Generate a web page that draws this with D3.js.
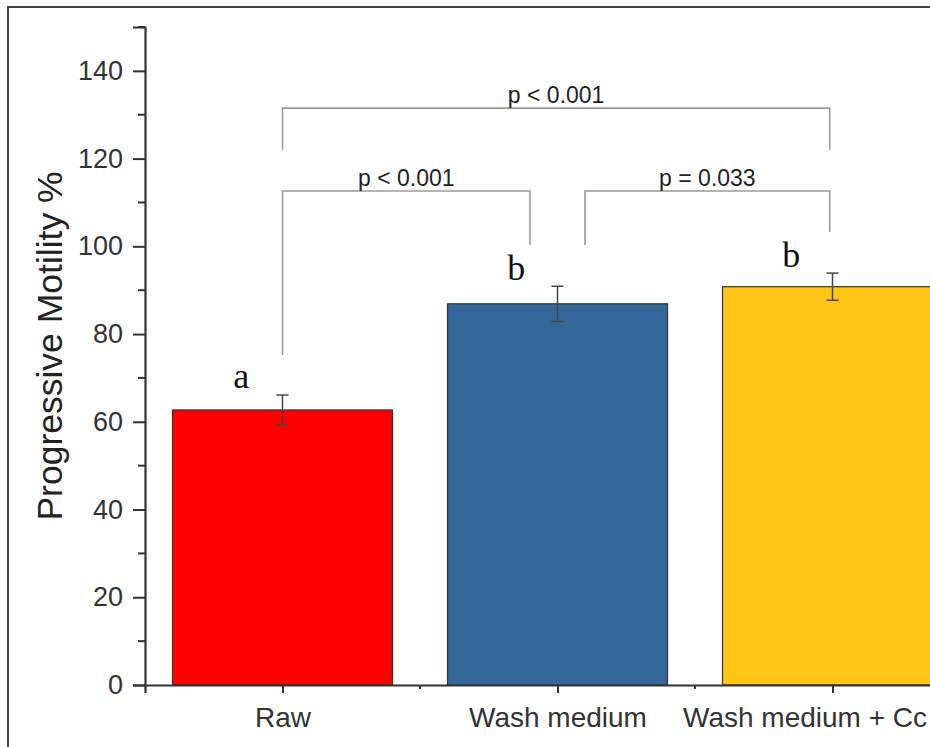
<!DOCTYPE html>
<html>
<head>
<meta charset="utf-8">
<script src="https://cdn.jsdelivr.net/npm/d3@7"></script>
<style>
  body { margin: 0; background: #fff; }
  svg { display: block; font-family: Arial, "Liberation Sans", sans-serif; }
</style>
</head>
<body>
<div id="chart"></div>
<script>
"use strict";

// Progressive motility by treatment (mean ± error)
const categories = ["Raw", "Wash medium", "Wash medium + Cc"];
const means = [62.7, 86.9, 90.8];
const errors = [3.4, 4.0, 3.1];
const letters = ["a", "b", "b"];
const barColors = ["#fe0000", "#336699", "#ffc416"];
const yTicks = [0, 20, 40, 60, 80, 100, 120, 140];

// pairwise comparisons: [left group, right group, label]
const comparisons = [
  [0, 2, "p < 0.001"],
  [0, 1, "p < 0.001"],
  [1, 2, "p = 0.033"]
];

const width = 930, height = 747;

const svg = d3.select("#chart")
  .append("svg")
  .attr("width", width)
  .attr("height", height);

// outer frame (top and left edges visible in the crop)
svg.append("path")
  .attr("d", `M8,${height} V7 H${width}`)
  .attr("fill", "none")
  .attr("stroke", "#444")
  .attr("stroke-width", 2);

const x = d3.scaleLinear().domain([-0.5, 2.5]).range([145, 970]);
const y = d3.scaleLinear().domain([0, 150]).range([685, 27]);
const barW = 0.8 * (x(1) - x(0));

const axisColor = "#333";

// bars
svg.selectAll("rect.bar")
  .data(means)
  .enter()
  .append("rect")
  .attr("class", "bar")
  .attr("x", (d, i) => x(i) - barW / 2)
  .attr("y", d => y(d))
  .attr("width", barW)
  .attr("height", d => y(0) - y(d))
  .attr("fill", (d, i) => barColors[i])
  .attr("stroke", "#333")
  .attr("stroke-width", 1.2);

// error bars
const err = svg.append("g")
  .attr("stroke", "#444")
  .attr("stroke-width", 1.5);
means.forEach((m, i) => {
  const cx = x(i);
  err.append("line").attr("x1", cx).attr("x2", cx).attr("y1", y(m + errors[i])).attr("y2", y(m - errors[i]));
  err.append("line").attr("x1", cx - 6).attr("x2", cx + 6).attr("y1", y(m + errors[i])).attr("y2", y(m + errors[i]));
  err.append("line").attr("x1", cx - 6).attr("x2", cx + 6).attr("y1", y(m - errors[i])).attr("y2", y(m - errors[i]));
});

// group letters
svg.selectAll("text.letter")
  .data(letters)
  .enter()
  .append("text")
  .attr("class", "letter")
  .attr("x", (d, i) => x(i - 0.15))
  .attr("y", (d, i) => y(means[i] + errors[i] + 1.5))
  .attr("text-anchor", "middle")
  .attr("font-family", "'Times New Roman', 'Liberation Serif', serif")
  .attr("font-size", "36px")
  .attr("fill", "#111")
  .text(d => d);

// significance brackets (bar y, left leg end, right leg end, x offsets)
const bracketGeom = [
  { level: 131.5, legL: 122, legR: 122, dl: 0, dr: -0.01 },
  { level: 112.6, legL: 75.2, legR: 100.3, dl: 0, dr: -0.1 },
  { level: 112.6, legL: 100.3, legR: 103.3, dl: 0.1, dr: -0.01 }
];
const br = svg.append("g");
comparisons.forEach((c, k) => {
  const g = bracketGeom[k];
  const x1 = x(c[0] + g.dl), x2 = x(c[1] + g.dr);
  br.append("path")
    .attr("d", `M${x1},${y(g.legL)} V${y(g.level)} H${x2} V${y(g.legR)}`)
    .attr("fill", "none")
    .attr("stroke", "#9a9a9a")
    .attr("stroke-width", 1.6);
  br.append("text")
    .attr("x", (x1 + x2) / 2)
    .attr("y", y(g.level) - 5)
    .attr("text-anchor", "middle")
    .attr("font-size", "23px")
    .attr("fill", "#222")
    .text(c[2]);
});

// y axis
const yAxis = d3.axisLeft(y).tickValues(yTicks).tickSize(12).tickPadding(10);
const gy = svg.append("g")
  .attr("transform", `translate(${x(-0.5)},0)`)
  .call(yAxis);
svg.append("g")
  .attr("transform", `translate(${x(-0.5)},0)`)
  .selectAll("line")
  .data(d3.range(10, 151, 20))
  .enter()
  .append("line")
  .attr("x1", -7).attr("x2", 0)
  .attr("y1", d => y(d)).attr("y2", d => y(d))
  .attr("stroke", axisColor)
  .attr("stroke-width", 2);
gy.select(".domain").attr("stroke", axisColor).attr("stroke-width", 2.2);
gy.selectAll(".tick line").attr("stroke", axisColor).attr("stroke-width", 2);
gy.selectAll(".tick text")
  .attr("font-size", "27px")
  .attr("fill", "#333");

// x axis
const xAxis = d3.axisBottom(x).tickValues([0, 1, 2]).tickSize(8).tickPadding(14)
  .tickFormat(i => categories[i]);
const gx = svg.append("g")
  .attr("transform", `translate(0,${y(0)})`)
  .call(xAxis);
gx.select(".domain").attr("stroke", axisColor).attr("stroke-width", 2.2);
gx.selectAll(".tick line").attr("stroke", axisColor).attr("stroke-width", 2);
gx.selectAll(".tick text")
  .attr("font-size", "28px")
  .attr("fill", "#333");
// last label is left-aligned where the crop cuts it
gx.selectAll(".tick text").filter(d => d === 2)
  .attr("text-anchor", "start")
  .attr("x", -150);
svg.append("g")
  .attr("transform", `translate(0,${y(0)})`)
  .selectAll("line")
  .data([0.5, 1.5])
  .enter()
  .append("line")
  .attr("x1", d => x(d)).attr("x2", d => x(d))
  .attr("y1", 0).attr("y2", 4)
  .attr("stroke", axisColor)
  .attr("stroke-width", 2);

// y axis title
svg.append("text")
  .attr("transform", `translate(62,${(170 + 522) / 2}) rotate(-90)`)
  .attr("text-anchor", "middle")
  .attr("font-size", "35.5px")
  .attr("fill", "#222")
  .text("Progressive Motility %");
</script>
</body>
</html>
